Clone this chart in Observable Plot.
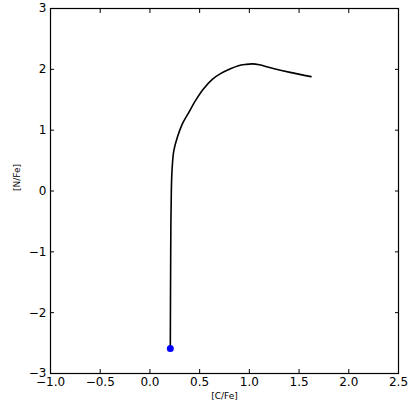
<!DOCTYPE html>
<html>
<head>
<meta charset="utf-8">
<script src="https://cdn.jsdelivr.net/npm/d3@7"></script>
<script src="https://cdn.jsdelivr.net/npm/@observablehq/plot@0.6"></script>
<style>
  html, body { margin: 0; padding: 0; background: #fff; }
  svg { display: block; }
</style>
</head>
<body>
<div id="chart"></div>
<script>
// Track in the [C/Fe]–[N/Fe] plane
const cFe = [0.205, 0.207, 0.209, 0.211, 0.214, 0.217, 0.224, 0.24, 0.275, 0.325, 0.39, 0.46, 0.54, 0.63, 0.71, 0.81, 0.89, 0.96, 1.03, 1.10, 1.25, 1.41, 1.62];
const nFe = [-2.59, -1.7, -1.0, -0.5, -0.16, 0.12, 0.39, 0.66, 0.88, 1.10, 1.29, 1.49, 1.68, 1.84, 1.93, 2.01, 2.06, 2.08, 2.09, 2.075, 2.01, 1.95, 1.88];
// Starting point
const startC = [0.205];
const startN = [-2.59];
// Axes
const xTicks = [-1.0, -0.5, 0.0, 0.5, 1.0, 1.5, 2.0, 2.5];
const yTicks = [-3, -2, -1, 0, 1, 2, 3];
const xLabel = "[C/Fe]";
const yLabel = "[N/Fe]";

const track = cFe.map((c, i) => ({c, n: nFe[i]}));
const start = startC.map((c, i) => ({c, n: startN[i]}));

const font = "DejaVu Sans, sans-serif";
const blank = () => "";

const chart = Plot.plot({
  width: 415,
  height: 415,
  marginLeft: 50,
  marginRight: 17,
  marginTop: 8,
  marginBottom: 42,
  style: {fontFamily: font, background: "#fff", color: "#000"},
  x: {domain: [-1, 2.5]},
  y: {domain: [-3, 3]},
  marks: [
    Plot.line(track, {x: "c", y: "n", curve: "catmull-rom", stroke: "black", strokeWidth: 1.6}),
    Plot.dot(start, {x: "c", y: "n", r: 3.5, fill: "blue", stroke: "none"}),
    Plot.frame({stroke: "black", strokeWidth: 1.2}),
    Plot.axisX(xTicks, {anchor: "bottom", tickSize: 0, tickPadding: 4, tickFormat: ".1f", fontSize: 12, label: null}),
    Plot.axisX(xTicks, {anchor: "bottom", tickSize: -4, tickFormat: blank, label: null}),
    Plot.axisX(xTicks, {anchor: "top", tickSize: -4, tickFormat: blank, label: null}),
    Plot.axisY(yTicks, {anchor: "left", tickSize: 0, tickPadding: 4, tickFormat: "d", fontSize: 12, label: null}),
    Plot.axisY(yTicks, {anchor: "left", tickSize: -4, tickFormat: blank, label: null}),
    Plot.axisY(yTicks, {anchor: "right", tickSize: -4, tickFormat: blank, label: null}),
    Plot.text([xLabel], {frameAnchor: "bottom", dy: 25, fontSize: 9, text: d => d}),
    Plot.text([yLabel], {frameAnchor: "left", dx: -33, rotate: -90, fontSize: 9, text: d => d})
  ]
});
document.getElementById("chart").appendChild(chart);
</script>
</body>
</html>
